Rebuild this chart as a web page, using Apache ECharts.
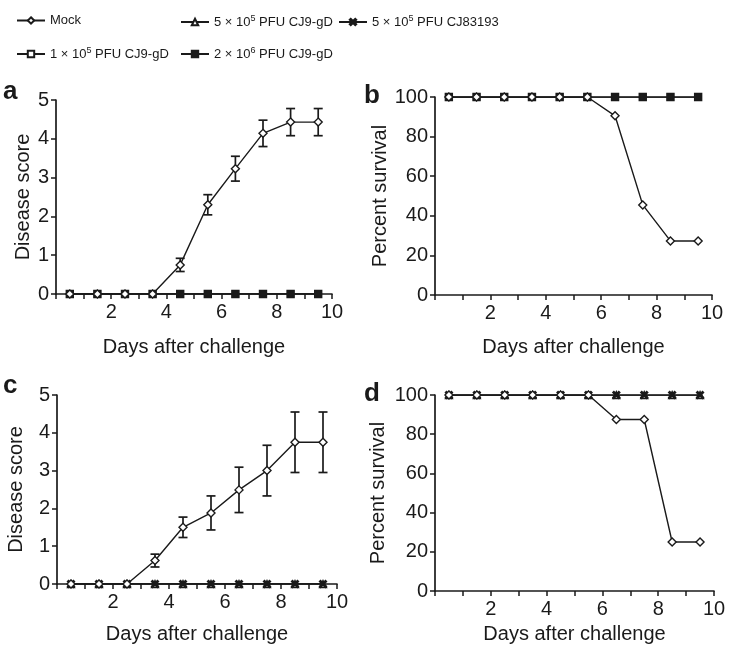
<!DOCTYPE html>
<html>
<head>
<meta charset="utf-8">
<script src="https://cdn.jsdelivr.net/npm/echarts@6/dist/echarts.min.js"></script>
<style>html,body{margin:0;padding:0;background:#fff}#c{width:735px;height:655px}</style>
</head>
<body>
<div id="c"></div>
<script>
// ---- data ----
const days = [0.5, 1.5, 2.5, 3.5, 4.5, 5.5, 6.5, 7.5, 8.5, 9.5];
const xTicks = [2, 4, 6, 8, 10];
// panel a: disease score (CJ9-gD doses)
const aMock = [0, 0, 0, 0, 0.75, 2.3, 3.23, 4.14, 4.43, 4.43];
const aMockErr = [0, 0, 0, 0, 0.17, 0.26, 0.32, 0.34, 0.35, 0.35];
const a1e5 = [0, 0, 0, 0, 0, 0, 0, 0, 0, 0];
const a2e6 = [0, 0, 0, 0, 0, 0, 0, 0, 0, 0];
// panel b: percent survival
const bMock = [100, 100, 100, 100, 100, 100, 90.5, 45.5, 27.3, 27.3];
const b1e5 = [100, 100, 100, 100, 100, 100, 100, 100, 100, 100];
const b2e6 = [100, 100, 100, 100, 100, 100, 100, 100, 100, 100];
// panel c: disease score (5e5 CJ9-gD vs CJ83193)
const cMock = [0, 0, 0, 0.62, 1.5, 1.88, 2.49, 3.0, 3.75, 3.75];
const cMockErr = [0, 0, 0, 0.17, 0.27, 0.45, 0.6, 0.67, 0.8, 0.8];
const c5e5gD = [0, 0, 0, 0, 0, 0, 0, 0, 0, 0];
const c5e5CJ83193 = [0, 0, 0, 0, 0, 0, 0, 0, 0, 0];
// panel d: percent survival
const dMock = [100, 100, 100, 100, 100, 100, 87.5, 87.5, 25, 25];
const d5e5gD = [100, 100, 100, 100, 100, 100, 100, 100, 100, 100];
const d5e5CJ83193 = [100, 100, 100, 100, 100, 100, 100, 100, 100, 100];

const N_MOCK = 'Mock';
const N_1E5 = '1e5 CJ9-gD';
const N_5E5 = '5e5 CJ9-gD';
const N_2E6 = '2e6 CJ9-gD';
const N_CJ83 = '5e5 CJ83193';
const legendText = {
  [N_MOCK]: 'Mock',
  [N_1E5]: '1 × 10{sup|5} PFU CJ9-gD',
  [N_5E5]: '5 × 10{sup|5} PFU CJ9-gD',
  [N_2E6]: '2 × 10{sup|6} PFU CJ9-gD',
  [N_CJ83]: '5 × 10{sup|5} PFU CJ83193'
};

// ---- styles ----
const FONT = "'Liberation Sans', Arial, Helvetica, sans-serif";
const BLACK = '#1a1a1a';
const XPATH = 'path://M0,1.5L1.5,0L5,3.5L8.5,0L10,1.5L6.5,5L10,8.5L8.5,10L5,6.5L1.5,10L0,8.5L3.5,5Z';
const sym = {
  [N_MOCK]: {symbol: 'diamond', size: 8, fill: '#fff'},
  [N_1E5]: {symbol: 'rect', size: 7, fill: '#fff'},
  [N_5E5]: {symbol: 'triangle', size: 7, fill: '#fff'},
  [N_2E6]: {symbol: 'rect', size: 6, fill: BLACK},
  [N_CJ83]: {symbol: XPATH, size: 7, fill: BLACK}
};
const zOrder = {[N_1E5]: 2, [N_2E6]: 3, [N_5E5]: 3, [N_CJ83]: 4, [N_MOCK]: 6};

const grids = [
  {left: 56, top: 100, width: 276, height: 194},
  {left: 435, top: 97, width: 277, height: 198},
  {left: 57, top: 395, width: 280, height: 189},
  {left: 435, top: 395, width: 279, height: 196}
];
const xNameGaps = [43, 42, 40, 33];

function xAxis(i) {
  return {
    type: 'value', gridIndex: i, min: 0, max: 10, interval: 1,
    name: 'Days after challenge', nameLocation: 'middle', nameGap: xNameGaps[i],
    nameTextStyle: {fontFamily: FONT, fontSize: 20, color: BLACK},
    axisLine: {show: true, onZero: false, lineStyle: {color: BLACK, width: 1.7}},
    axisTick: {show: true, length: 5, lineStyle: {color: BLACK, width: 1.5}},
    axisLabel: {fontFamily: FONT, fontSize: 20, color: BLACK, margin: 8,
      formatter: v => xTicks.indexOf(v) >= 0 ? String(v) : ''},
    splitLine: {show: false}
  };
}
function yAxis(i, max, interval, name, gap) {
  return {
    type: 'value', gridIndex: i, min: 0, max: max, interval: interval,
    name: name, nameLocation: 'middle', nameGap: gap,
    nameTextStyle: {fontFamily: FONT, fontSize: 20, color: BLACK},
    axisLine: {show: true, lineStyle: {color: BLACK, width: 1.7}},
    axisTick: {show: true, length: 5, lineStyle: {color: BLACK, width: 1.5}},
    axisLabel: {fontFamily: FONT, fontSize: 20, color: BLACK, margin: 7},
    splitLine: {show: false}
  };
}

function lineSeries(name, values, idx) {
  const s = sym[name];
  return {
    name: name, type: 'line', xAxisIndex: idx, yAxisIndex: idx,
    data: days.map((d, k) => [d, values[k]]),
    symbol: s.symbol, symbolSize: s.size, showAllSymbol: true,
    lineStyle: {color: BLACK, width: 1.4},
    itemStyle: {color: s.fill, borderColor: BLACK, borderWidth: 1.4},
    z: zOrder[name], animation: false
  };
}
function errSeries(values, errs, idx) {
  return {
    type: 'custom', xAxisIndex: idx, yAxisIndex: idx, z: 1, animation: false,
    data: days.map((d, k) => [d, values[k], errs[k]]),
    renderItem: function (params, api) {
      const x = api.value(0), y = api.value(1), e = api.value(2);
      if (!e) return null;
      const hi = api.coord([x, y + e]);
      const lo = api.coord([x, y - e]);
      const w = 4.5;
      const st = {stroke: BLACK, lineWidth: 1.7};
      return {type: 'group', children: [
        {type: 'line', shape: {x1: hi[0], y1: hi[1], x2: lo[0], y2: lo[1]}, style: st},
        {type: 'line', shape: {x1: hi[0] - w, y1: hi[1], x2: hi[0] + w, y2: hi[1]}, style: st},
        {type: 'line', shape: {x1: lo[0] - w, y1: lo[1], x2: lo[0] + w, y2: lo[1]}, style: st}
      ]};
    }
  };
}

function legend(name, left, top) {
  return {
    data: [name], left: left, top: top, padding: 0, itemWidth: 28, itemHeight: 8, itemGap: 0,
    selectedMode: false,
    formatter: n => legendText[n],
    textStyle: {fontFamily: FONT, fontSize: 13, color: BLACK,
      rich: {sup: {fontFamily: FONT, fontSize: 9, color: BLACK, padding: [0, 0, 7, 0]}}}
  };
}

function letter(t, left, top) {
  return {text: t, left: left, top: top, padding: 0,
    textStyle: {fontFamily: FONT, fontSize: 26, fontWeight: 'bold', color: BLACK}};
}

const option = {
  backgroundColor: '#fff',
  animation: false,
  title: [letter('a', 3, 79), letter('b', 364, 83), letter('c', 3, 373), letter('d', 364, 381)],
  legend: [
    legend(N_MOCK, 16, 14), legend(N_5E5, 180, 14), legend(N_CJ83, 338, 14),
    legend(N_1E5, 16, 46), legend(N_2E6, 180, 46)
  ],
  grid: grids,
  xAxis: [xAxis(0), xAxis(1), xAxis(2), xAxis(3)],
  yAxis: [
    yAxis(0, 5, 1, 'Disease score', 20),
    yAxis(1, 100, 20, 'Percent survival', 45),
    yAxis(2, 5, 1, 'Disease score', 31),
    yAxis(3, 100, 20, 'Percent survival', 47)
  ],
  series: [
    errSeries(aMock, aMockErr, 0),
    lineSeries(N_1E5, a1e5, 0), lineSeries(N_2E6, a2e6, 0), lineSeries(N_MOCK, aMock, 0),
    lineSeries(N_1E5, b1e5, 1), lineSeries(N_2E6, b2e6, 1), lineSeries(N_MOCK, bMock, 1),
    errSeries(cMock, cMockErr, 2),
    lineSeries(N_5E5, c5e5gD, 2), lineSeries(N_CJ83, c5e5CJ83193, 2), lineSeries(N_MOCK, cMock, 2),
    lineSeries(N_5E5, d5e5gD, 3), lineSeries(N_CJ83, d5e5CJ83193, 3), lineSeries(N_MOCK, dMock, 3)
  ]
};
const chart = echarts.init(document.getElementById('c'), null, {renderer: 'canvas'});
chart.setOption(option);
</script>
</body>
</html>
